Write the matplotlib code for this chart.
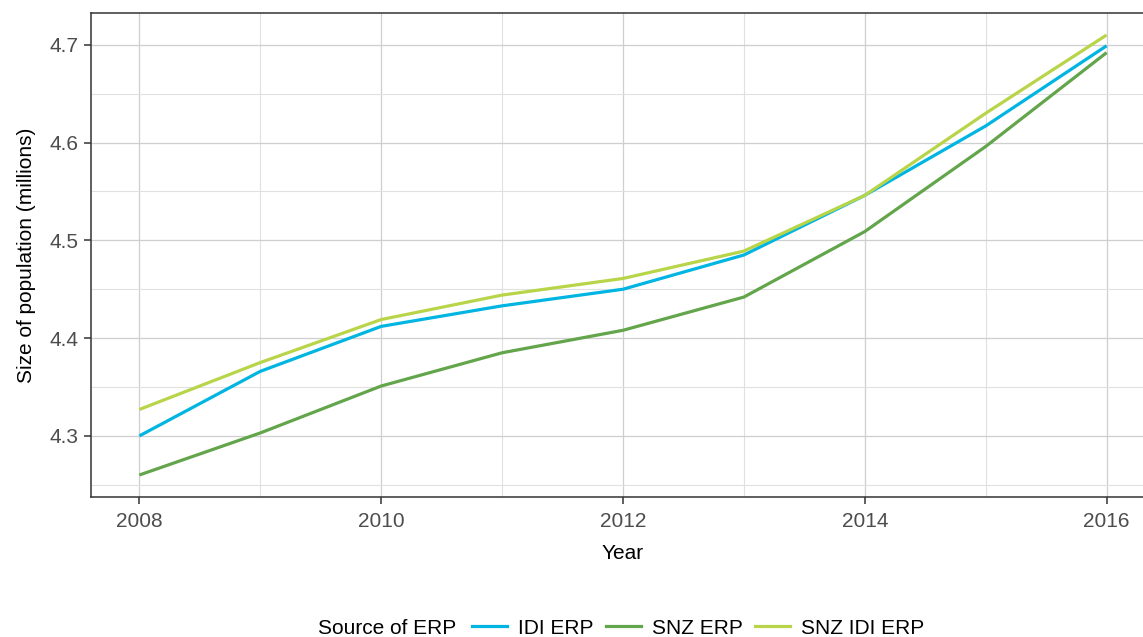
import matplotlib
matplotlib.use("Agg")
import matplotlib.pyplot as plt
from matplotlib.lines import Line2D
from matplotlib.ticker import MultipleLocator

years = [2008, 2009, 2010, 2011, 2012, 2013, 2014, 2015, 2016]
idi_erp = [4.300, 4.366, 4.412, 4.433, 4.450, 4.485, 4.546, 4.617, 4.699]
snz_erp = [4.260, 4.303, 4.351, 4.385, 4.408, 4.442, 4.509, 4.596, 4.692]
snz_idi_erp = [4.327, 4.375, 4.419, 4.444, 4.461, 4.489, 4.546, 4.630, 4.710]
series_names = ["IDI ERP", "SNZ ERP", "SNZ IDI ERP"]
colors = ["#00B5E2", "#63A54B", "#B8D54A"]
x_ticks = [2008, 2010, 2012, 2014, 2016]
y_ticks = [4.3, 4.4, 4.5, 4.6, 4.7]

plt.rcParams["font.family"] = ["Liberation Sans", "DejaVu Sans"]
fs = 15

fig = plt.figure(figsize=(11.43, 6.37), dpi=100)
W, H = 1143, 637
# panel extends slightly past the right edge of the figure, as in the reference
ax = fig.add_axes([91 / W, 1 - 497 / H, (1155 - 91) / W, (497 - 13) / H])

for vals, c in zip([idi_erp, snz_erp, snz_idi_erp], colors):
    ax.plot(years, vals, color=c, lw=2.3, solid_capstyle="butt", zorder=3)

allv = idi_erp + snz_erp + snz_idi_erp
lo, hi = min(allv), max(allv)
pad = (hi - lo) * 0.05
ax.set_ylim(lo - pad, hi + pad)
ax.set_xlim(2008 - 0.4, 2016 + 0.4)

ax.set_xticks(x_ticks)
ax.set_yticks(y_ticks)
ax.set_yticklabels([f"{v:.1f}" for v in y_ticks])
ax.xaxis.set_minor_locator(MultipleLocator(1))
ax.yaxis.set_minor_locator(MultipleLocator(0.05))
ax.grid(which="major", color="#CFCFCF", lw=0.9, zorder=0)
ax.grid(which="minor", color="#E0E0E0", lw=0.8, zorder=0)
ax.set_axisbelow(True)
ax.tick_params(which="minor", length=0)
ax.tick_params(which="major", length=5, width=1.1, color="#333333",
               labelsize=fs, labelcolor="#4D4D4D")
ax.tick_params(axis="x", pad=5.5)
ax.tick_params(axis="y", pad=4)
for s in ax.spines.values():
    s.set_color("#333333")
    s.set_linewidth(1.1)

ax.set_xlabel("Year", fontsize=fs, labelpad=10)
ax.set_ylabel("Size of population (millions)", fontsize=fs, labelpad=10)

# legend
ly = 1 - 628 / H
fig.text(318 / W, ly, "Source of ERP", fontsize=fs, va="center", ha="left")
handles = [Line2D([0], [0], color=c, lw=2.3) for c in colors]
fig.legend(handles, series_names, loc="center left",
           bbox_to_anchor=(472 / W, ly), ncol=3, frameon=False,
           fontsize=fs, handlelength=1.7, handletextpad=0.5, columnspacing=0.6,
           borderaxespad=0, borderpad=0)

fig.savefig("out.png", dpi=100)
